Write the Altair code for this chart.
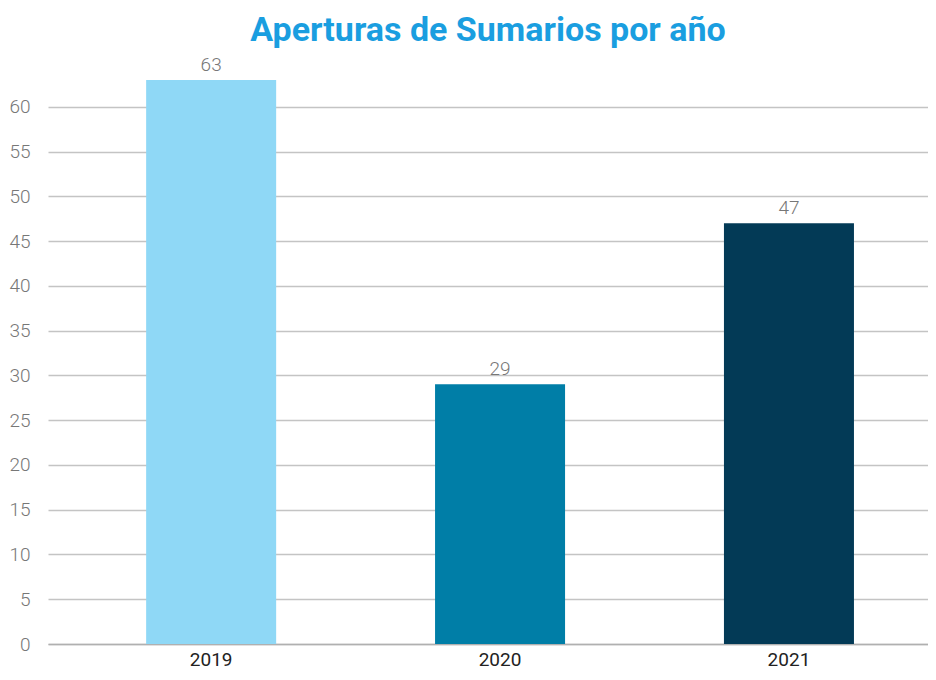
import altair as alt
import pandas as pd

years = ["2019", "2020", "2021"]
values = [63, 29, 47]
colors = ["#8fd8f6", "#007ea7", "#033a56"]
y_ticks = [0, 5, 10, 15, 20, 25, 30, 35, 40, 45, 50, 55, 60]

df = pd.DataFrame({"year": years, "value": values, "color": colors})

FONT = "Roboto"

x = alt.X("year:N", title=None, sort=years,
          scale=alt.Scale(paddingInner=0.55, paddingOuter=0.298, align=0.57),
          axis=alt.Axis(labelAngle=0, labelFontSize=19, labelColor="#222222",
                        labelFont=FONT, ticks=False, domain=True,
                        domainColor="#b0b0b0", domainWidth=1.5, labelPadding=6))
y = alt.Y("value:Q", title=None,
          scale=alt.Scale(domain=[0, 65], nice=False),
          axis=alt.Axis(values=y_ticks, labelFontSize=19, labelColor="#777777",
                        labelFont=FONT, labelFontWeight=300, ticks=False, domain=False,
                        gridColor="#c4c4c4", gridWidth=1.5, labelPadding=18))

base = alt.Chart(df)
bars = base.mark_bar().encode(x=x, y=y, color=alt.Color("color:N", scale=None))
labels = base.mark_text(baseline="bottom", dy=-5, fontSize=19, color="#777777",
                        font=FONT, fontWeight=300).encode(x=x, y=y, text="value:Q")

chart = (bars + labels).properties(
    width=880, height=582,
    autosize=alt.AutoSizeParams(type="none"),
    padding={"left": 40, "top": 54, "right": 0, "bottom": 28},
    title=alt.TitleParams("Aperturas de Sumarios por año", fontSize=34,
                          font=FONT, fontWeight="bold", color="#1a9ee0",
                          anchor="middle", offset=8),
).configure_view(stroke=None)

chart.save("out.html", embed_options={"renderer": "svg", "actions": False})
